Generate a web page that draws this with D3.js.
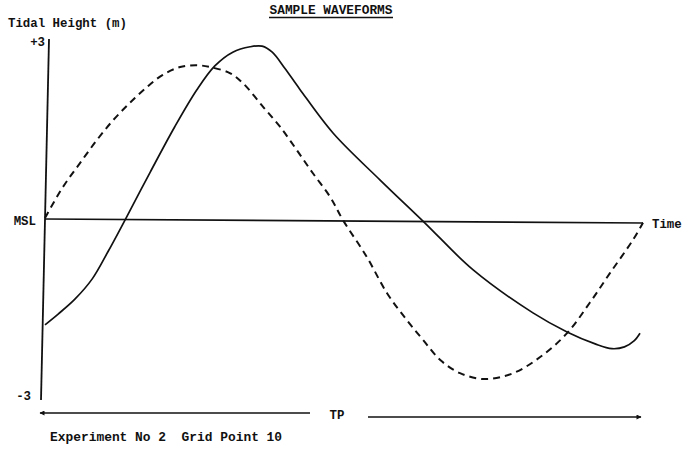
<!DOCTYPE html>
<html>
<head>
<meta charset="utf-8">
<script src="https://cdn.jsdelivr.net/npm/d3@7"></script>
<style>
  html, body { margin: 0; padding: 0; background: #fff; }
  svg { display: block; }
  text { font-family: "Liberation Mono", "DejaVu Sans Mono", monospace; font-weight: bold; fill: #111; white-space: pre; }
</style>
</head>
<body>
<svg id="chart" width="686" height="450"></svg>
<script>
// Time as percent of the tidal period (TP), height in metres relative to MSL.
const dashedTime = [0, 3.0, 5.85, 8.7, 11.4, 14.2, 17.1, 19.7, 22.6, 25.4, 27.6, 30.9, 33.1, 36.5, 39.3, 42.1, 44.8, 47.7, 49.8, 53.8, 57.2, 60.5, 63.2, 66.1, 69.4, 73.6, 78.3, 82.8, 87.3, 91.1, 94.5, 98.3, 100];
const dashedHeight = [0.05, 0.57, 0.97, 1.36, 1.69, 1.98, 2.25, 2.45, 2.58, 2.61, 2.58, 2.48, 2.31, 1.91, 1.58, 1.19, 0.80, 0.40, 0.02, -0.60, -1.21, -1.66, -1.99, -2.33, -2.55, -2.65, -2.55, -2.28, -1.88, -1.37, -0.87, -0.32, -0.03];

const solidTime = [0, 2.2, 5.0, 7.9, 10.5, 13.4, 17.6, 21.7, 25.4, 28.4, 31.4, 34.3, 36.3, 38.0, 40.1, 42.6, 48.2, 56.0, 63.5, 71.6, 81.6, 87.3, 92.0, 94.8, 96.9, 98.5, 99.5];
const solidHeight = [-1.74, -1.56, -1.31, -0.97, -0.52, 0.02, 0.82, 1.58, 2.20, 2.60, 2.83, 2.92, 2.93, 2.83, 2.56, 2.21, 1.47, 0.69, -0.03, -0.82, -1.54, -1.86, -2.06, -2.14, -2.11, -2.01, -1.88];

const heightTicks = [3, 0, -3];
const heightTickLabels = ["+3", "MSL", "-3"];

const titleText = "SAMPLE WAVEFORMS";
const yTitle = "Tidal Height (m)";
const xTitle = "Time";
const periodLabel = "TP";
const footerText = "Experiment No 2  Grid Point 10";

const svg = d3.select("#chart");

const x = d3.scaleLinear().domain([0, 100]).range([45, 643]);
const y = d3.scaleLinear().domain([-3, 3]).range([400, 42]);

// arrowhead marker for the period bar
const defs = svg.append("defs");
defs.append("marker")
  .attr("id", "arrow")
  .attr("viewBox", "0 0 10 10")
  .attr("refX", 9).attr("refY", 5)
  .attr("markerWidth", 7).attr("markerHeight", 5)
  .attr("markerUnits", "userSpaceOnUse")
  .attr("orient", "auto-start-reverse")
  .append("path").attr("d", "M0,0 L10,5 L0,10 Z").attr("fill", "#111");

// title with underline
svg.append("text").attr("x", 331).attr("y", 14)
  .attr("text-anchor", "middle").attr("font-size", 12.8).text(titleText);
svg.append("line").attr("x1", 269).attr("x2", 393).attr("y1", 17.5).attr("y2", 17.5)
  .attr("stroke", "#111").attr("stroke-width", 1.6);

// vertical axis title
svg.append("text").attr("x", 8).attr("y", 27).attr("font-size", 12.4).text(yTitle);

// height axis (slightly leaning, as plotted)
svg.append("line")
  .attr("x1", 49).attr("y1", y(3) - 3)
  .attr("x2", 41).attr("y2", y(-3))
  .attr("stroke", "#111").attr("stroke-width", 1.8);

// tick labels
const labelX = h => (h === 3 ? 45 : h === 0 ? 36 : 31);
const labelDy = h => (h === -3 ? 0 : 4);
svg.selectAll(".tick-label").data(heightTicks).join("text")
  .attr("class", "tick-label")
  .attr("x", d => labelX(d))
  .attr("y", d => y(d) + labelDy(d))
  .attr("text-anchor", "end")
  .attr("font-size", 12.4)
  .text((d, i) => heightTickLabels[i]);

// mean sea level / time axis
svg.append("line")
  .attr("x1", x(0)).attr("y1", y(0) - 2)
  .attr("x2", x(100)).attr("y2", y(0) + 2)
  .attr("stroke", "#111").attr("stroke-width", 1.6);
svg.append("text").attr("x", 652).attr("y", y(0) + 7)
  .attr("font-size", 12.4).text(xTitle);

// curves
const line = d3.line()
  .x(d => x(d[0])).y(d => y(d[1]))
  .curve(d3.curveCatmullRom.alpha(0.5));

const dashedPts = dashedTime.map((t, i) => [t, dashedHeight[i]]);
const solidPts = solidTime.map((t, i) => [t, solidHeight[i]]);

svg.append("path").datum(dashedPts)
  .attr("d", line).attr("fill", "none")
  .attr("stroke", "#111").attr("stroke-width", 2)
  .attr("stroke-dasharray", "7,5");

svg.append("path").datum(solidPts)
  .attr("d", line).attr("fill", "none")
  .attr("stroke", "#111").attr("stroke-width", 1.7);

// tidal period bar, split around its label
svg.append("line")
  .attr("x1", 310).attr("y1", 413)
  .attr("x2", 40).attr("y2", 413)
  .attr("stroke", "#111").attr("stroke-width", 1.6)
  .attr("marker-end", "url(#arrow)");
svg.append("line")
  .attr("x1", 368).attr("y1", 417)
  .attr("x2", 641).attr("y2", 417)
  .attr("stroke", "#111").attr("stroke-width", 1.6)
  .attr("marker-end", "url(#arrow)");
svg.append("text").attr("x", 337).attr("y", 419)
  .attr("text-anchor", "middle").attr("font-size", 12.4).text(periodLabel);

// footer
svg.append("text").attr("x", 50).attr("y", 441)
  .attr("font-size", 12.9).text(footerText);
</script>
</body>
</html>
